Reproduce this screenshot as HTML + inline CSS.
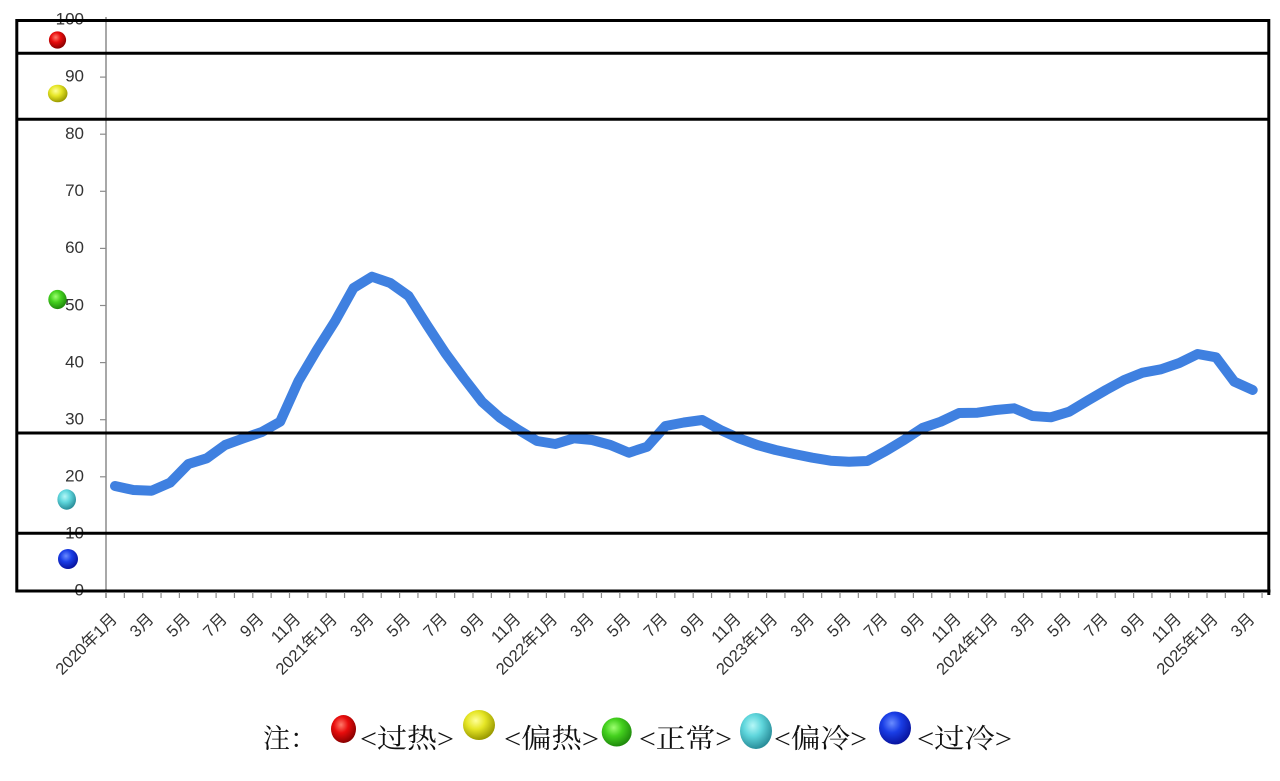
<!DOCTYPE html>
<html>
<head>
<meta charset="utf-8">
<style>
html,body{margin:0;padding:0;background:#fff;}
svg{display:block;}
</style>
</head>
<body>
<svg width="1280" height="781" viewBox="0 0 1280 781" xmlns="http://www.w3.org/2000/svg">
<defs>
<radialGradient id="gRed" cx="40%" cy="35%" r="65%">
<stop offset="0" stop-color="#ff7a6a"/><stop offset="0.45" stop-color="#e80c0c"/><stop offset="1" stop-color="#8a0000"/>
</radialGradient>
<radialGradient id="gYel" cx="40%" cy="35%" r="65%">
<stop offset="0" stop-color="#ffff9a"/><stop offset="0.45" stop-color="#e6e626"/><stop offset="1" stop-color="#9a9a00"/>
</radialGradient>
<radialGradient id="gGrn" cx="40%" cy="35%" r="65%">
<stop offset="0" stop-color="#9dff70"/><stop offset="0.45" stop-color="#44d11e"/><stop offset="1" stop-color="#1f8a0c"/>
</radialGradient>
<radialGradient id="gCyn" cx="40%" cy="35%" r="65%">
<stop offset="0" stop-color="#b5f7f7"/><stop offset="0.45" stop-color="#5fd6dc"/><stop offset="1" stop-color="#2a8e9a"/>
</radialGradient>
<radialGradient id="gBlu" cx="40%" cy="35%" r="65%">
<stop offset="0" stop-color="#6a8cff"/><stop offset="0.45" stop-color="#1a3ee6"/><stop offset="1" stop-color="#0814a0"/>
</radialGradient>
</defs>

<!-- y axis -->
<line x1="106" y1="17" x2="106" y2="598" stroke="#8c8c8c" stroke-width="1.5"/>
<g stroke="#8c8c8c" stroke-width="1.2">
<line x1="100" y1="20" x2="106" y2="20"/>
<line x1="100" y1="77.1" x2="106" y2="77.1"/>
<line x1="100" y1="134.2" x2="106" y2="134.2"/>
<line x1="100" y1="191.3" x2="106" y2="191.3"/>
<line x1="100" y1="248.4" x2="106" y2="248.4"/>
<line x1="100" y1="305.5" x2="106" y2="305.5"/>
<line x1="100" y1="362.6" x2="106" y2="362.6"/>
<line x1="100" y1="419.7" x2="106" y2="419.7"/>
<line x1="100" y1="476.8" x2="106" y2="476.8"/>
<line x1="100" y1="533.9" x2="106" y2="533.9"/>
</g>
<g font-family="Liberation Sans, sans-serif" font-size="17" fill="#333" text-anchor="end" dominant-baseline="central">
<text x="84" y="19">100</text>
<text x="84" y="76">90</text>
<text x="84" y="133.5">80</text>
<text x="84" y="190.5">70</text>
<text x="84" y="247.5">60</text>
<text x="84" y="305">50</text>
<text x="84" y="362">40</text>
<text x="84" y="419">30</text>
<text x="84" y="476">20</text>
<text x="84" y="533">10</text>
<text x="84" y="590">0</text>
</g>

<!-- data line -->
<polyline fill="none" stroke="#3f80e0" stroke-width="10" stroke-linejoin="round" stroke-linecap="round"
points="115,486 133.35,490 151.7,490.7 170.05,482.7 188.4,464 206.75,458.3 225.1,445 243.45,438.3 261.8,432 280.15,421.7 298.5,381 316.85,350 335.2,321 353.55,288 371.9,276.7 390.25,283 408.6,296 426.95,325 445.3,353 463.65,378 482,401.7 500.35,418 518.7,430 537.05,441 555.4,444 573.75,438.3 592.1,440 610.45,445 628.8,452.7 647.15,446.7 665.5,426 683.85,422.5 702.2,420 720.55,430 738.9,438.3 757.25,445 775.6,450 793.95,454 812.3,457.7 830.65,460.7 849,461.7 867.35,461 885.7,451 904.05,440 922.4,428 940.75,421.7 959.1,413 977.45,412.7 995.8,410 1014.15,408.3 1032.5,416 1050.85,417.3 1069.2,411.7 1087.55,400.7 1105.9,390 1124.25,380 1142.6,372.7 1160.95,369.3 1179.3,363 1197.65,354 1216,357.3 1234.35,381.7 1252.7,390"/>

<!-- zone boxes -->
<g stroke="#000" stroke-width="3" fill="none">
<line x1="15.5" y1="20.5" x2="1270" y2="20.5"/>
<line x1="15.5" y1="53.3" x2="1270" y2="53.3"/>
<line x1="15.5" y1="119.2" x2="1270" y2="119.2"/>
<line x1="15.5" y1="433" x2="1270" y2="433"/>
<line x1="15.5" y1="533.2" x2="1270" y2="533.2"/>
<line x1="15.5" y1="591" x2="1270.5" y2="591"/>
<line x1="16.8" y1="19" x2="16.8" y2="592.5"/>
<line x1="1268.8" y1="19" x2="1268.8" y2="595"/>
</g>

<!-- markers in chart -->
<ellipse cx="57.5" cy="40" rx="8.6" ry="8.6" fill="url(#gRed)"/>
<ellipse cx="57.7" cy="93.5" rx="9.8" ry="8.8" fill="url(#gYel)"/>
<ellipse cx="57.5" cy="299.5" rx="9.2" ry="9.6" fill="url(#gGrn)"/>
<ellipse cx="66.7" cy="499.5" rx="9.3" ry="10.2" fill="url(#gCyn)"/>
<ellipse cx="68" cy="559" rx="10" ry="10" fill="url(#gBlu)"/>

<!-- x labels -->
<g font-family="Liberation Sans, 'Noto Sans CJK SC', sans-serif" font-size="16.5" fill="#333" text-anchor="end">
<text transform="translate(118,620) rotate(-45)">2020年1月</text>
<text transform="translate(154.7,620) rotate(-45)">3月</text>
<text transform="translate(191.4,620) rotate(-45)">5月</text>
<text transform="translate(228.1,620) rotate(-45)">7月</text>
<text transform="translate(264.8,620) rotate(-45)">9月</text>
<text transform="translate(301.5,620) rotate(-45)">11月</text>
<text transform="translate(338.2,620) rotate(-45)">2021年1月</text>
<text transform="translate(374.9,620) rotate(-45)">3月</text>
<text transform="translate(411.6,620) rotate(-45)">5月</text>
<text transform="translate(448.3,620) rotate(-45)">7月</text>
<text transform="translate(485,620) rotate(-45)">9月</text>
<text transform="translate(521.7,620) rotate(-45)">11月</text>
<text transform="translate(558.4,620) rotate(-45)">2022年1月</text>
<text transform="translate(595.1,620) rotate(-45)">3月</text>
<text transform="translate(631.8,620) rotate(-45)">5月</text>
<text transform="translate(668.5,620) rotate(-45)">7月</text>
<text transform="translate(705.2,620) rotate(-45)">9月</text>
<text transform="translate(741.9,620) rotate(-45)">11月</text>
<text transform="translate(778.6,620) rotate(-45)">2023年1月</text>
<text transform="translate(815.3,620) rotate(-45)">3月</text>
<text transform="translate(852,620) rotate(-45)">5月</text>
<text transform="translate(888.7,620) rotate(-45)">7月</text>
<text transform="translate(925.4,620) rotate(-45)">9月</text>
<text transform="translate(962.1,620) rotate(-45)">11月</text>
<text transform="translate(998.8,620) rotate(-45)">2024年1月</text>
<text transform="translate(1035.5,620) rotate(-45)">3月</text>
<text transform="translate(1072.2,620) rotate(-45)">5月</text>
<text transform="translate(1108.9,620) rotate(-45)">7月</text>
<text transform="translate(1145.6,620) rotate(-45)">9月</text>
<text transform="translate(1182.3,620) rotate(-45)">11月</text>
<text transform="translate(1219,620) rotate(-45)">2025年1月</text>
<text transform="translate(1255.7,620) rotate(-45)">3月</text>
</g>

<!-- x ticks -->
<g stroke="#8c8c8c" stroke-width="1.2">
<line x1="106" y1="592" x2="106" y2="598"/><line x1="124.35" y1="592" x2="124.35" y2="598"/><line x1="142.7" y1="592" x2="142.7" y2="598"/><line x1="161.05" y1="592" x2="161.05" y2="598"/><line x1="179.4" y1="592" x2="179.4" y2="598"/><line x1="197.75" y1="592" x2="197.75" y2="598"/><line x1="216.1" y1="592" x2="216.1" y2="598"/><line x1="234.45" y1="592" x2="234.45" y2="598"/><line x1="252.8" y1="592" x2="252.8" y2="598"/><line x1="271.15" y1="592" x2="271.15" y2="598"/><line x1="289.5" y1="592" x2="289.5" y2="598"/><line x1="307.85" y1="592" x2="307.85" y2="598"/><line x1="326.2" y1="592" x2="326.2" y2="598"/><line x1="344.55" y1="592" x2="344.55" y2="598"/><line x1="362.9" y1="592" x2="362.9" y2="598"/><line x1="381.25" y1="592" x2="381.25" y2="598"/><line x1="399.6" y1="592" x2="399.6" y2="598"/><line x1="417.95" y1="592" x2="417.95" y2="598"/><line x1="436.3" y1="592" x2="436.3" y2="598"/><line x1="454.65" y1="592" x2="454.65" y2="598"/><line x1="473" y1="592" x2="473" y2="598"/><line x1="491.35" y1="592" x2="491.35" y2="598"/><line x1="509.7" y1="592" x2="509.7" y2="598"/><line x1="528.05" y1="592" x2="528.05" y2="598"/><line x1="546.4" y1="592" x2="546.4" y2="598"/><line x1="564.75" y1="592" x2="564.75" y2="598"/><line x1="583.1" y1="592" x2="583.1" y2="598"/><line x1="601.45" y1="592" x2="601.45" y2="598"/><line x1="619.8" y1="592" x2="619.8" y2="598"/><line x1="638.15" y1="592" x2="638.15" y2="598"/><line x1="656.5" y1="592" x2="656.5" y2="598"/><line x1="674.85" y1="592" x2="674.85" y2="598"/><line x1="693.2" y1="592" x2="693.2" y2="598"/><line x1="711.55" y1="592" x2="711.55" y2="598"/><line x1="729.9" y1="592" x2="729.9" y2="598"/><line x1="748.25" y1="592" x2="748.25" y2="598"/><line x1="766.6" y1="592" x2="766.6" y2="598"/><line x1="784.95" y1="592" x2="784.95" y2="598"/><line x1="803.3" y1="592" x2="803.3" y2="598"/><line x1="821.65" y1="592" x2="821.65" y2="598"/><line x1="840" y1="592" x2="840" y2="598"/><line x1="858.35" y1="592" x2="858.35" y2="598"/><line x1="876.7" y1="592" x2="876.7" y2="598"/><line x1="895.05" y1="592" x2="895.05" y2="598"/><line x1="913.4" y1="592" x2="913.4" y2="598"/><line x1="931.75" y1="592" x2="931.75" y2="598"/><line x1="950.1" y1="592" x2="950.1" y2="598"/><line x1="968.45" y1="592" x2="968.45" y2="598"/><line x1="986.8" y1="592" x2="986.8" y2="598"/><line x1="1005.15" y1="592" x2="1005.15" y2="598"/><line x1="1023.5" y1="592" x2="1023.5" y2="598"/><line x1="1041.85" y1="592" x2="1041.85" y2="598"/><line x1="1060.2" y1="592" x2="1060.2" y2="598"/><line x1="1078.55" y1="592" x2="1078.55" y2="598"/><line x1="1096.9" y1="592" x2="1096.9" y2="598"/><line x1="1115.25" y1="592" x2="1115.25" y2="598"/><line x1="1133.6" y1="592" x2="1133.6" y2="598"/><line x1="1151.95" y1="592" x2="1151.95" y2="598"/><line x1="1170.3" y1="592" x2="1170.3" y2="598"/><line x1="1188.65" y1="592" x2="1188.65" y2="598"/><line x1="1207" y1="592" x2="1207" y2="598"/><line x1="1225.35" y1="592" x2="1225.35" y2="598"/><line x1="1243.7" y1="592" x2="1243.7" y2="598"/><line x1="1262.05" y1="592" x2="1262.05" y2="598"/>
</g>

<!-- legend -->
<g font-family="Liberation Serif, 'Noto Serif CJK SC', serif" font-size="27" fill="#111">
<text x="263" y="748">注：</text>
<ellipse cx="343.5" cy="729" rx="12.5" ry="14" fill="url(#gRed)"/>
<text x="360" y="748" textLength="94" lengthAdjust="spacingAndGlyphs">&lt;过热&gt;</text>
<ellipse cx="479" cy="725" rx="16" ry="15" fill="url(#gYel)"/>
<text x="504" y="748" textLength="95" lengthAdjust="spacingAndGlyphs">&lt;偏热&gt;</text>
<ellipse cx="616.7" cy="732" rx="15" ry="14.5" fill="url(#gGrn)"/>
<text x="639" y="748" textLength="93" lengthAdjust="spacingAndGlyphs">&lt;正常&gt;</text>
<ellipse cx="756" cy="731" rx="16" ry="18" fill="url(#gCyn)"/>
<text x="774" y="748" textLength="93" lengthAdjust="spacingAndGlyphs">&lt;偏冷&gt;</text>
<ellipse cx="895" cy="728" rx="16" ry="16.5" fill="url(#gBlu)"/>
<text x="917" y="748" textLength="95" lengthAdjust="spacingAndGlyphs">&lt;过冷&gt;</text>
</g>
</svg>
</body>
</html>
